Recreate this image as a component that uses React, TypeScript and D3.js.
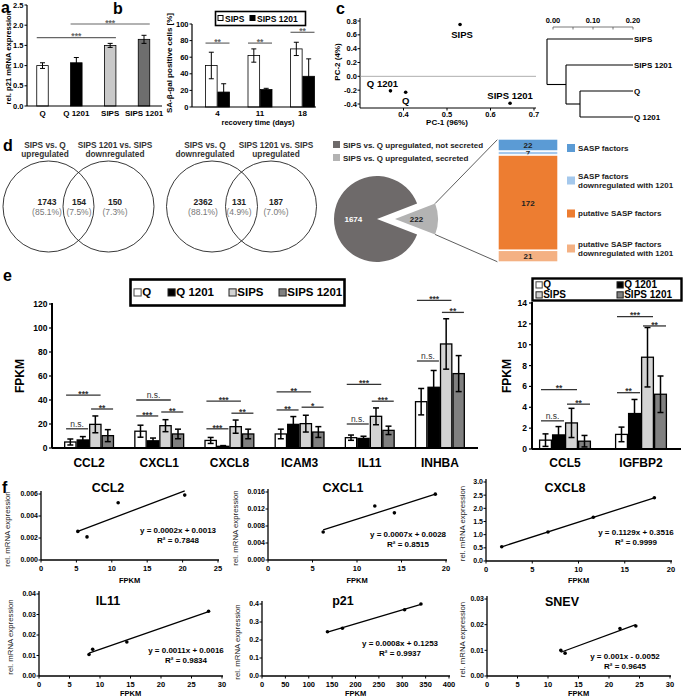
import React from "react";
import * as d3 from "d3";

const FONT = "'Liberation Sans', Arial, Helvetica, sans-serif";

// ================= DATA =================
// panel a
const aCategories = ["Q", "Q 1201", "SIPS", "SIPS 1201"];
const aMeans = [1.0, 1.07, 1.5, 1.65];
const aErrors = [0.07, 0.13, 0.05, 0.1];
const aTicks = [0, 0.5, 1.0, 1.5, 2.0, 2.5];
const aSig = [
  { from: 0, to: 2, level: 1.69, label: "***" },
  { from: 1, to: 3, level: 2.03, label: "***" },
];

// panel b
const bDays = ["4", "11", "18"];
const bSeries = ["SIPS", "SIPS 1201"];
const bSIPS = [50, 62, 70];
const bSIPSErr = [16, 8, 8];
const b1201 = [18, 21, 37];
const b1201Err = [10, 1.5, 21];
const bTicks = [0, 20, 40, 60, 80, 100];
const bSigLevel = [77, 77, 90];
const bSigLabel = ["**", "**", "**"];

// panel c
const pcaNames = ["SIPS", "Q 1201", "Q", "SIPS 1201"];
const pcaPC1 = [0.53, 0.37, 0.405, 0.645];
const pcaPC2 = [0.75, -0.21, -0.23, -0.39];
const pcaXTicks = [0.4, 0.5, 0.6, 0.7];
const pcaYTicks = [-0.4, -0.2, 0, 0.2, 0.4, 0.6, 0.8];
const dendroLeaves = ["SIPS", "SIPS 1201", "Q", "Q 1201"];
const dendroTicks = [0, 0.05, 0.1, 0.15, 0.2];
const dendroLabelTicks = [0, 0.1, 0.2];
const dendroTree = {
  dist: 0.215,
  children: [
    { name: "SIPS", dist: 0 },
    {
      dist: 0.1675,
      children: [
        { name: "SIPS 1201", dist: 0 },
        { dist: 0.1325, children: [{ name: "Q", dist: 0 }, { name: "Q 1201", dist: 0 }] },
      ],
    },
  ],
};

// panel d
const venn1Headers = [["SIPS vs. Q", "upregulated"], ["SIPS 1201 vs. SIPS", "downregulated"]];
const venn1Counts = ["1743", "154", "150"];
const venn1Pcts = ["(85.1%)", "(7.5%)", "(7.3%)"];
const venn2Headers = [["SIPS vs. Q", "downregulated"], ["SIPS 1201 vs. SIPS", "upregulated"]];
const venn2Counts = ["2362", "131", "187"];
const venn2Pcts = ["(88.1%)", "(4.9%)", "(7.0%)"];
const pieLabels = ["SIPS vs. Q upregulated, not secreted", "SIPS vs. Q upregulated, secreted"];
const pieValues = [1674, 222];
const saspLabels = [
  ["SASP factors"],
  ["SASP factors", "downregulated with 1201"],
  ["putative SASP factors"],
  ["putative SASP factors", "downregulated with 1201"],
];
const saspValues = [22, 7, 172, 21];

// panel e
const eGroups = ["Q", "Q 1201", "SIPS", "SIPS 1201"];
const eGenes1 = ["CCL2", "CXCL1", "CXCL8", "ICAM3", "IL11", "INHBA"];
const eQ1 = [5, 14, 6.3, 11.7, 8.6, 38.6];
const eQ1Err = [2.5, 5, 2.5, 4, 2.2, 11];
const eQ12011 = [6.7, 6, 1.4, 19.7, 8, 50.6];
const eQ12011Err = [2.8, 2.3, 0.6, 6.5, 1.8, 14];
const eSIPS1 = [19.7, 18.6, 17.8, 20.3, 26.4, 86.7];
const eSIPS1Err = [7, 5, 5.5, 7, 7, 21];
const eSIPS12011 = [10.3, 11.7, 11.7, 13.3, 14.7, 62];
const eSIPS12011Err = [5, 4, 4, 4.5, 3.5, 15];
const eTicks1 = [0, 20, 40, 60, 80, 100, 120];
const eSig1 = [
  { gene: 0, from: 0, to: 2, level: 44, label: "***" },
  { gene: 0, from: 0, to: 1, level: 16, label: "n.s." },
  { gene: 0, from: 2, to: 3, level: 32.5, label: "**" },
  { gene: 1, from: 0, to: 2, level: 40, label: "n.s." },
  { gene: 1, from: 0, to: 1, level: 26.7, label: "***" },
  { gene: 1, from: 2, to: 3, level: 30, label: "**" },
  { gene: 2, from: 0, to: 2, level: 39, label: "***" },
  { gene: 2, from: 0, to: 1, level: 16, label: "***" },
  { gene: 2, from: 2, to: 3, level: 29, label: "**" },
  { gene: 3, from: 0, to: 2, level: 46.7, label: "**" },
  { gene: 3, from: 0, to: 1, level: 31.7, label: "**" },
  { gene: 3, from: 2, to: 3, level: 34, label: "*" },
  { gene: 4, from: 0, to: 2, level: 53, label: "***" },
  { gene: 4, from: 0, to: 1, level: 20, label: "n.s." },
  { gene: 4, from: 2, to: 3, level: 39, label: "***" },
  { gene: 5, from: 0, to: 2, level: 123, label: "***" },
  { gene: 5, from: 0, to: 1, level: 72.5, label: "n.s." },
  { gene: 5, from: 2, to: 3, level: 113, label: "**" },
];
const eGenes2 = ["CCL5", "IGFBP2"];
const eQ2 = [0.85, 1.4];
const eQ2Err = [0.6, 0.7];
const eQ12012 = [1.35, 3.4];
const eQ12012Err = [0.8, 1.35];
const eSIPS2 = [2.5, 8.8];
const eSIPS2Err = [1.4, 2.85];
const eSIPS12012 = [0.75, 5.25];
const eSIPS12012Err = [0.55, 1.75];
const eTicks2 = [0, 2, 4, 6, 8, 10, 12, 14];
const eSig2 = [
  { gene: 0, from: 0, to: 2, level: 5.7, label: "**" },
  { gene: 0, from: 0, to: 1, level: 2.7, label: "n.s." },
  { gene: 0, from: 2, to: 3, level: 4.3, label: "**" },
  { gene: 1, from: 0, to: 2, level: 12.7, label: "***" },
  { gene: 1, from: 0, to: 1, level: 5.4, label: "**" },
  { gene: 1, from: 2, to: 3, level: 11.8, label: "**" },
];

// panel f
const fTitles = ["CCL2", "CXCL1", "CXCL8", "IL11", "p21", "SNEV"];
const ccl2X = [5.2, 6.5, 10.9, 20.3];
const ccl2Y = [0.0026, 0.0021, 0.0052, 0.0059];
const cxcl1X = [6.2, 12.0, 14.2, 18.8];
const cxcl1Y = [0.0066, 0.0127, 0.0111, 0.0155];
const cxcl8X = [1.7, 6.7, 11.6, 18.2];
const cxcl8Y = [0.54, 1.1, 1.66, 2.4];
const il11X = [8.2, 8.8, 14.4, 27.8];
const il11Y = [0.0105, 0.013, 0.0166, 0.0316];
const p21X = [140, 172, 305, 340];
const p21Y = [0.246, 0.265, 0.368, 0.4];
const snevX = [12.1, 12.8, 21.8, 24.4];
const snevY = [0.01, 0.0089, 0.0185, 0.0195];
const fEquations = [
  "y = 0.0002x + 0.0013",
  "y = 0.0007x + 0.0028",
  "y = 0.1129x + 0.3516",
  "y = 0.0011x + 0.0016",
  "y = 0.0008x + 0.1253",
  "y = 0.001x - 0.0052",
];
const fR2 = ["R² = 0.7848", "R² = 0.8515", "R² = 0.9999", "R² = 0.9834", "R² = 0.9937", "R² = 0.9645"];
const fXTicks = [
  [0, 5, 10, 15, 20, 25],
  [0, 5, 10, 15, 20],
  [0, 5, 10, 15, 20],
  [0, 5, 10, 15, 20, 25, 30],
  [0, 50, 100, 150, 200, 250, 300, 350, 400],
  [0, 5, 10, 15, 20, 25, 30],
];
const fYTicks = [
  [0, 0.002, 0.004, 0.006],
  [0, 0.004, 0.008, 0.012, 0.016],
  [0, 0.5, 1, 1.5, 2, 2.5, 3],
  [0, 0.01, 0.02, 0.03, 0.04],
  [0, 0.1, 0.2, 0.3, 0.4],
  [0, 0.01, 0.02, 0.03],
];
const fYDigits = [3, 3, 1, 2, 1, 2];

// ================= HELPERS =================
function ErrorBar({ x, y1, y2, cap, sw }: any) {
  return (
    <g stroke="#000" strokeWidth={sw || 1}>
      <line x1={x} x2={x} y1={y1} y2={y2} />
      <line x1={x - cap} x2={x + cap} y1={y1} y2={y1} />
      <line x1={x - cap} x2={x + cap} y1={y2} y2={y2} />
    </g>
  );
}

function SigMark({ x1, x2, y, label, size, color, sw }: any) {
  const ns = label === "n.s.";
  return (
    <g>
      <line x1={x1} x2={x2} y1={y} y2={y} stroke={color || "#444"} strokeWidth={sw || 1.2} />
      <text
        x={(x1 + x2) / 2}
        y={ns ? y - 1.8 : y + (size || 8) * 0.2}
        textAnchor="middle"
        fontSize={size || 8}
        fontWeight={ns ? "normal" : "bold"}
        fill={color || "#444"}
      >
        {label}
      </text>
    </g>
  );
}

function RotText({ x, y, size, weight, children, fill }: any) {
  return (
    <text
      transform={`translate(${x},${y}) rotate(-90)`}
      textAnchor="middle"
      fontSize={size}
      fontWeight={weight || "bold"}
      fill={fill || "#000"}
    >
      {children}
    </text>
  );
}

// ================= PANEL A =================
function PanelA() {
  const x = d3.scalePoint<string>().domain(aCategories).range([42.5, 144]);
  const y = d3.scaleLinear().domain([0, 2.5]).range([106, 5]);
  const bw = 11.5;
  const fills = ["#ffffff", "#000000", "#c9c9c9", "#6e6e6e"];
  return (
    <g>
      <text x={1} y={13} fontSize={16} fontWeight="bold">a</text>
      <RotText x={11} y={y(1.2)} size={7.6}>rel. p21 mRNA expression</RotText>
      {aTicks.map((t) => (
        <g key={t}>
          <line x1={24.5} x2={27} y1={y(t)} y2={y(t)} stroke="#000" />
          <text x={23.5} y={y(t)} dy="0.35em" textAnchor="end" fontSize={7.5} fontWeight="bold">
            {t.toFixed(1)}
          </text>
        </g>
      ))}
      <line x1={27} x2={27} y1={y(2.5)} y2={y(0)} stroke="#000" strokeWidth={1.2} />
      {aCategories.map((c, i) => (
        <g key={c}>
          <rect
            x={x(c)! - bw / 2}
            y={y(aMeans[i])}
            width={bw}
            height={y(0) - y(aMeans[i])}
            fill={fills[i]}
            stroke="#000"
            strokeWidth={0.8}
          />
          <ErrorBar x={x(c)!} y1={y(aMeans[i] - aErrors[i])} y2={y(aMeans[i] + aErrors[i])} cap={2.5} />
          <text x={x(c)} y={116} textAnchor="middle" fontSize={8} fontWeight="bold">
            {c}
          </text>
        </g>
      ))}
      <line x1={27} x2={162} y1={y(0)} y2={y(0)} stroke="#000" strokeWidth={1.2} />
      {aSig.map((s, i) => (
        <SigMark
          key={i}
          x1={x(aCategories[s.from])! - bw / 2}
          x2={x(aCategories[s.to])! + bw / 2}
          y={y(s.level)}
          label={s.label}
          size={8.5}
          color="#666"
        />
      ))}
    </g>
  );
}

// ================= PANEL B =================
function PanelB() {
  const x0 = d3.scalePoint<string>().domain(bDays).range([217.5, 302.5]);
  const x1 = d3.scaleBand<string>().domain(bSeries).range([-12, 12]).paddingInner(0.06);
  const y = d3.scaleLinear().domain([0, 100]).range([107, 24]);
  const bw = x1.bandwidth();
  const series = [
    { vals: bSIPS, errs: bSIPSErr, fill: "#ffffff" },
    { vals: b1201, errs: b1201Err, fill: "#000000" },
  ];
  return (
    <g>
      <text x={113} y={14} fontSize={16} fontWeight="bold">b</text>
      <RotText x={172} y={63} size={8}>SA-β-gal positive cells [%]</RotText>
      {bTicks.map((t) => (
        <g key={t}>
          <line x1={189.5} x2={192} y1={y(t)} y2={y(t)} stroke="#000" />
          <text x={188.5} y={y(t)} dy="0.35em" textAnchor="end" fontSize={7.5} fontWeight="bold">
            {t}
          </text>
        </g>
      ))}
      <line x1={192} x2={192} y1={y(100)} y2={y(0)} stroke="#000" strokeWidth={1.2} />
      {bDays.map((d, i) => (
        <g key={d}>
          {series.map((s, j) => {
            const bx = x0(d)! + x1(bSeries[j])!;
            return (
              <g key={j}>
                <rect x={bx} y={y(s.vals[i])} width={bw} height={y(0) - y(s.vals[i])} fill={s.fill} stroke="#000" strokeWidth={0.8} />
                <ErrorBar x={bx + bw / 2} y1={y(s.vals[i] - s.errs[i])} y2={y(s.vals[i] + s.errs[i])} cap={2.5} />
              </g>
            );
          })}
          <text x={x0(d)} y={116} textAnchor="middle" fontSize={8} fontWeight="bold">{d}</text>
          <SigMark x1={x0(d)! - 12} x2={x0(d)! + 12} y={y(bSigLevel[i])} label={bSigLabel[i]} size={8.5} color="#666" />
        </g>
      ))}
      <line x1={192} x2={316} y1={y(0)} y2={y(0)} stroke="#000" strokeWidth={1.2} />
      <text x={258} y={125} textAnchor="middle" fontSize={7.5} fontWeight="bold">recovery time (days)</text>
      {/* legend */}
      <rect x={215.5} y={11.5} width={90} height={14} fill="#fff" stroke="#000" strokeWidth={1.6} />
      <rect x={218} y={15.5} width={5} height={5} fill="#fff" stroke="#000" strokeWidth={1} />
      <text x={225} y={21.5} fontSize={8.5} fontWeight="bold">{bSeries[0]}</text>
      <rect x={250} y={15.5} width={5} height={5} fill="#000" stroke="#000" strokeWidth={1} />
      <text x={257} y={21.5} fontSize={8.5} fontWeight="bold">{bSeries[1]}</text>
    </g>
  );
}

// ================= PANEL C =================
function PanelC() {
  const x = d3.scaleLinear().domain([0.3, 0.7]).range([360, 534]);
  const y = d3.scaleLinear().domain([-0.4, 0.8]).range([104, 21]);
  const labelDx = [2, -8, 0, 0];
  const labelDy = [14, -4, 12, -4];
  // dendrogram
  const ds = d3.scaleLinear().domain([0, 0.2]).range([553, 633]);
  const ly = d3.scalePoint<string>().domain(dendroLeaves).range([39, 117]);
  const root = d3.hierarchy<any>(dendroTree);
  const nodeY = (n: any): number => {
    if (!n.children) return ly(n.data.name)!;
    const ys = n.children.map(nodeY);
    return (ys[0] + ys[ys.length - 1]) / 2;
  };
  const nodeX = (n: any) => ds(0.2 - n.data.dist);
  const segs: any[] = [];
  root.each((n: any) => {
    if (n.children) {
      const cx = nodeX(n);
      const cys = n.children.map(nodeY);
      segs.push([cx, cys[0], cx, cys[cys.length - 1]]);
      n.children.forEach((c: any, k: number) => {
        segs.push([cx, cys[k], nodeX(c), cys[k]]);
      });
    }
  });
  return (
    <g>
      <text x={336} y={14} fontSize={16} fontWeight="bold">c</text>
      <RotText x={340} y={62} size={8}>PC-2 (4%)</RotText>
      <line x1={360} x2={360} y1={18} y2={108} stroke="#000" strokeWidth={1} />
      {pcaYTicks.map((t) => (
        <g key={t}>
          <line x1={357.5} x2={360} y1={y(t)} y2={y(t)} stroke="#000" />
          <text x={357} y={y(t)} dy="0.35em" textAnchor="end" fontSize={7.5} fontWeight="bold">
            {t.toFixed(1)}
          </text>
        </g>
      ))}
      <line x1={360} x2={536} y1={108} y2={108} stroke="#000" strokeWidth={1} />
      {pcaXTicks.map((t) => (
        <g key={t}>
          <line x1={x(t)} x2={x(t)} y1={108} y2={110.5} stroke="#000" />
          <text x={x(t)} y={117} textAnchor="middle" fontSize={7.5} fontWeight="bold">
            {t.toFixed(1)}
          </text>
        </g>
      ))}
      <line x1={360} x2={536} y1={y(0)} y2={y(0)} stroke="#999" strokeWidth={0.8} />
      <text x={447} y={125} textAnchor="middle" fontSize={8} fontWeight="bold">PC-1 (96%)</text>
      {pcaNames.map((n, i) => (
        <g key={n}>
          <circle cx={x(pcaPC1[i])} cy={y(pcaPC2[i])} r={1.8} fill="#000" />
          <text
            x={x(pcaPC1[i]) + labelDx[i]}
            y={y(pcaPC2[i]) + labelDy[i]}
            textAnchor="middle"
            fontSize={9.5}
            fontWeight="bold"
          >
            {n}
          </text>
        </g>
      ))}
      {/* dendrogram */}
      <line x1={ds(0)} x2={ds(0.2)} y1={27} y2={27} stroke="#555" strokeWidth={0.8} />
      {dendroTicks.map((t) => (
        <line key={t} x1={ds(t)} x2={ds(t)} y1={27} y2={29.5} stroke="#555" strokeWidth={0.8} />
      ))}
      {dendroLabelTicks.map((t) => (
        <text key={t} x={ds(t)} y={23} textAnchor="middle" fontSize={7.5} fontWeight="bold">
          {t.toFixed(2)}
        </text>
      ))}
      {segs.map((s, i) => (
        <line key={i} x1={s[0]} y1={s[1]} x2={s[2]} y2={s[3]} stroke="#000" strokeWidth={1.1} />
      ))}
      {dendroLeaves.map((l) => (
        <text key={l} x={ds(0.2) + 1} y={ly(l)} dy="0.35em" fontSize={8} fontWeight="bold">
          {l}
        </text>
      ))}
    </g>
  );
}

// ================= PANEL D =================
function Venn({ cx1, cx2, cy, r, headers, counts, pcts, headerX, labelX }: any) {
  return (
    <g>
      <circle cx={cx1} cy={cy} r={r} fill="none" stroke="#222" strokeWidth={0.9} />
      <circle cx={cx2} cy={cy} r={r} fill="none" stroke="#222" strokeWidth={0.9} />
      {headers.map((h: string[], i: number) => (
        <text key={i} x={headerX[i]} textAnchor="middle" fontSize={8.3} fontWeight="bold" fill="#333">
          <tspan x={headerX[i]} y={147.5}>{h[0]}</tspan>
          <tspan x={headerX[i]} y={157}>{h[1]}</tspan>
        </text>
      ))}
      {counts.map((c: string, i: number) => (
        <g key={i}>
          <text x={labelX[i]} y={205} textAnchor="middle" fontSize={8.5} fontWeight="bold" fill="#222">{c}</text>
          <text x={labelX[i]} y={215} textAnchor="middle" fontSize={8.5} fill="#777">{pcts[i]}</text>
        </g>
      ))}
    </g>
  );
}

function PanelD() {
  const cx = 377;
  const cy = 219;
  const r = 43;
  const explode = 18;
  const total = d3.sum(pieValues);
  const theta = (2 * Math.PI * pieValues[1]) / total;
  const start = Math.PI / 2 + theta / 2;
  const arcs = d3.pie<number>().sort(null).startAngle(start).endAngle(start + 2 * Math.PI)(pieValues);
  const arcGen = d3.arc<any>().innerRadius(0).outerRadius(r);
  const pieFills = ["#6e6a6a", "#b3b3b3"];
  const small = arcs[1];
  const sx = cx + explode;
  const cornerA = [sx + r * Math.sin(small.startAngle), cy - r * Math.cos(small.startAngle)];
  const cornerB = [sx + r * Math.sin(small.endAngle), cy - r * Math.cos(small.endAngle)];
  // stacked bar
  const barX = 498;
  const barW = 60;
  const ys = d3.scaleLinear().domain([0, d3.sum(saspValues)]).range([139, 262]);
  const cum = d3.cumsum([0, ...saspValues]);
  const saspFills = ["#5b9bd5", "#a4c8ec", "#ed7d31", "#f4b183"];
  const legendY = [148, 180.5, 213.5, 248.5];
  const bigCentroid = arcGen.centroid(arcs[0]);
  const smallCentroid = arcGen.centroid(small);
  return (
    <g>
      <text x={3} y={151} fontSize={16} fontWeight="bold">d</text>
      <Venn
        cx1={48.5}
        cx2={108.5}
        cy={206.5}
        r={45.5}
        headers={venn1Headers}
        counts={venn1Counts}
        pcts={venn1Pcts}
        headerX={[45, 115]}
        labelX={[47, 79, 115]}
      />
      <Venn
        cx1={212}
        cx2={271}
        cy={206.5}
        r={45.5}
        headers={venn2Headers}
        counts={venn2Counts}
        pcts={venn2Pcts}
        headerX={[205, 276]}
        labelX={[203, 239, 276]}
      />
      {/* pie legend */}
      {pieLabels.map((l, i) => (
        <g key={l}>
          <rect x={333} y={141 + i * 13} width={7} height={7} fill={pieFills[i]} />
          <text x={343} y={147.5 + i * 13} fontSize={8} fontWeight="bold" fill="#222">{l}</text>
        </g>
      ))}
      <path d={arcGen(arcs[0])!} transform={`translate(${cx},${cy})`} fill={pieFills[0]} />
      <path d={arcGen(small)!} transform={`translate(${sx},${cy})`} fill={pieFills[1]} />
      <text x={cx + bigCentroid[0] * 1.1} y={cy + bigCentroid[1]} dy="0.35em" textAnchor="middle" fontSize={8} fontWeight="bold" fill="#fff">
        {pieValues[0]}
      </text>
      <text x={sx + smallCentroid[0]} y={cy + smallCentroid[1]} dy="0.35em" textAnchor="middle" fontSize={8} fontWeight="bold" fill="#222">
        {pieValues[1]}
      </text>
      <line x1={cornerA[0]} y1={cornerA[1]} x2={barX} y2={ys(0)} stroke="#333" strokeWidth={0.8} />
      <line x1={cornerB[0]} y1={cornerB[1]} x2={barX} y2={ys(d3.sum(saspValues))} stroke="#333" strokeWidth={0.8} />
      {saspValues.map((v, i) => (
        <g key={i}>
          <rect x={barX} y={ys(cum[i])} width={barW} height={ys(cum[i + 1]) - ys(cum[i])} fill={saspFills[i]} stroke="#fff" strokeWidth={1.4} />
          <text
            x={barX + barW / 2}
            y={(ys(cum[i]) + ys(cum[i + 1])) / 2}
            dy="0.35em"
            textAnchor="middle"
            fontSize={8}
            fontWeight="bold"
            fill="#222"
          >
            {v}
          </text>
        </g>
      ))}
      {saspLabels.map((l, i) => (
        <g key={i}>
          <rect x={567} y={legendY[i] - 4} width={8} height={8} fill={saspFills[i]} />
          {l.map((t, k) => (
            <text key={k} x={578} y={legendY[i] + (k - (l.length - 1) / 2) * 9.5} dy="0.35em" fontSize={8} fontWeight="bold" fill="#222">
              {t}
            </text>
          ))}
        </g>
      ))}
    </g>
  );
}

// ================= PANEL E =================
const groupFills = ["#ffffff", "#000000", "#d3d3d3", "#808080"];

function GroupedBars({ genes, series, sig, xRange, yDomain, yRange, axisX, axisEnd, ticks, groupW, tickX }: any) {
  const x0 = d3.scaleBand<string>().domain(genes).range(xRange);
  const x1 = d3.scaleBand<string>().domain(eGroups).range([0, groupW]);
  const y = d3.scaleLinear().domain(yDomain).range(yRange);
  const bw = x1.bandwidth();
  const barX = (gi: number, k: number) => x0(genes[gi])! + x0.bandwidth() / 2 - groupW / 2 + x1(eGroups[k])!;
  return (
    <g>
      {ticks.map((t: number) => (
        <g key={t}>
          <line x1={axisX - 3} x2={axisX} y1={y(t)} y2={y(t)} stroke="#000" strokeWidth={1.2} />
          <text x={tickX} y={y(t)} dy="0.35em" textAnchor="end" fontSize={8.5} fontWeight="bold">{t}</text>
        </g>
      ))}
      {genes.map((g: string, gi: number) => (
        <g key={g}>
          {series.map((s: any, k: number) => {
            const v = s.vals[gi];
            const e = s.errs[gi];
            const bx = barX(gi, k);
            return (
              <g key={k}>
                <rect x={bx + 0.6} y={y(v)} width={bw - 1.2} height={y(0) - y(v)} fill={groupFills[k]} stroke="#000" strokeWidth={1.3} />
                <ErrorBar x={bx + bw / 2} y1={y(v - e)} y2={y(v + e)} cap={3} sw={1.5} />
              </g>
            );
          })}
          <text x={x0(g)! + x0.bandwidth() / 2} y={467} textAnchor="middle" fontSize={12} fontWeight="bold">{g}</text>
        </g>
      ))}
      {sig.map((s: any, i: number) => (
        <SigMark
          key={i}
          x1={barX(s.gene, s.from) + 2}
          x2={barX(s.gene, s.to) + bw - 1}
          y={y(s.level)}
          label={s.label}
          size={8.5}
          color="#333"
          sw={1.3}
        />
      ))}
      <line x1={axisX} x2={axisX} y1={yRange[1] - 1} y2={yRange[0]} stroke="#000" strokeWidth={2} />
      <line x1={axisX} x2={axisEnd} y1={yRange[0]} y2={yRange[0]} stroke="#000" strokeWidth={2.2} />
    </g>
  );
}

function LegendItem({ x, y, k, size }: any) {
  return (
    <g>
      <rect x={x} y={y - size * 0.62} width={size * 0.62} height={size * 0.62} fill={groupFills[k]} stroke={k === 0 ? "#444" : "#222"} strokeWidth={1} />
      <text x={x + size * 0.72} y={y} fontSize={size} fontWeight="bold">{eGroups[k]}</text>
    </g>
  );
}

function PanelE() {
  const series1 = [
    { vals: eQ1, errs: eQ1Err },
    { vals: eQ12011, errs: eQ12011Err },
    { vals: eSIPS1, errs: eSIPS1Err },
    { vals: eSIPS12011, errs: eSIPS12011Err },
  ];
  const series2 = [
    { vals: eQ2, errs: eQ2Err },
    { vals: eQ12012, errs: eQ12012Err },
    { vals: eSIPS2, errs: eSIPS2Err },
    { vals: eSIPS12012, errs: eSIPS12012Err },
  ];
  return (
    <g>
      <text x={3} y={281} fontSize={16} fontWeight="bold">e</text>
      <rect x={130.5} y={279.5} width={214} height={26} fill="#fff" stroke="#000" strokeWidth={2.6} />
      <LegendItem x={134} y={296} k={0} size={11.5} />
      <LegendItem x={168} y={296} k={1} size={11.5} />
      <LegendItem x={229} y={296} k={2} size={11.5} />
      <LegendItem x={279} y={296} k={3} size={11.5} />
      <RotText x={24} y={376} size={12}>FPKM</RotText>
      <GroupedBars
        genes={eGenes1}
        series={series1}
        sig={eSig1}
        xRange={[54, 475]}
        yDomain={[0, 120]}
        yRange={[448, 304]}
        axisX={52}
        axisEnd={478}
        ticks={eTicks1}
        groupW={50}
        tickX={47.5}
      />
      <rect x={532.5} y={278.5} width={149} height={22} fill="#fff" stroke="#000" strokeWidth={2.4} />
      <LegendItem x={536} y={288} k={0} size={10} />
      <LegendItem x={617} y={288} k={1} size={10} />
      <LegendItem x={536} y={298} k={2} size={10} />
      <LegendItem x={617} y={298} k={3} size={10} />
      <RotText x={511} y={376} size={12}>FPKM</RotText>
      <GroupedBars
        genes={eGenes2}
        series={series2}
        sig={eSig2}
        xRange={[527, 679]}
        yDomain={[0, 14]}
        yRange={[449, 303]}
        axisX={532}
        axisEnd={681}
        ticks={eTicks2}
        groupW={52}
        tickX={527}
      />
    </g>
  );
}

// ================= PANEL F =================
function fit(xs: number[], ys: number[]) {
  const mx = d3.mean(xs)!;
  const my = d3.mean(ys)!;
  let sxy = 0;
  let sxx = 0;
  xs.forEach((v, i) => {
    sxy += (v - mx) * (ys[i] - my);
    sxx += (v - mx) * (v - mx);
  });
  const slope = sxy / sxx;
  return { slope, intercept: my - slope * mx };
}

function Scatter({ idx, xs, ys, L }: any) {
  const x = d3.scaleLinear().domain([fXTicks[idx][0], fXTicks[idx][fXTicks[idx].length - 1]]).range([L.x0, L.x1]);
  const yt = fYTicks[idx];
  const y = d3.scaleLinear().domain([yt[0], yt[yt.length - 1]]).range([L.yb, L.yt]);
  const f = fit(xs, ys);
  const xmin = d3.min(xs)!;
  const xmax = d3.max(xs)!;
  const line = d3.line<number>().x((v) => x(v)).y((v) => y(f.slope * v + f.intercept));
  return (
    <g>
      <text x={L.tx} y={L.ty} textAnchor="middle" fontSize={12.5} fontWeight="bold">{fTitles[idx]}</text>
      <RotText x={L.lx} y={(L.yb + L.yt) / 2 + 2} size={7.8} weight="normal" fill="#222">rel. mRNA expression</RotText>
      <line x1={L.x0} x2={L.x0} y1={L.yt - 3} y2={L.yb} stroke="#000" strokeWidth={1.3} />
      <line x1={L.x0} x2={L.x1 + 1} y1={L.yb} y2={L.yb} stroke="#000" strokeWidth={1.3} />
      {yt.map((t: number) => (
        <g key={t}>
          <line x1={L.x0 - 2.5} x2={L.x0} y1={y(t)} y2={y(t)} stroke="#000" strokeWidth={1} />
          <text x={L.x0 - 3} y={y(t)} dy="0.35em" textAnchor="end" fontSize={7} fontWeight="bold">
            {t.toFixed(fYDigits[idx])}
          </text>
        </g>
      ))}
      {fXTicks[idx].map((t: number) => (
        <g key={t}>
          <line x1={x(t)} x2={x(t)} y1={L.yb} y2={L.yb + 2.5} stroke="#000" strokeWidth={1} />
          <text x={x(t)} y={L.yb + 10.5} textAnchor="middle" fontSize={7.5} fontWeight="bold">{t}</text>
        </g>
      ))}
      <text x={(L.x0 + L.x1) / 2} y={L.fy} textAnchor="middle" fontSize={7.5} fontWeight="bold">FPKM</text>
      <path d={line([xmin, xmax])!} stroke="#000" strokeWidth={1.3} fill="none" />
      {xs.map((v: number, i: number) => (
        <circle key={i} cx={x(v)} cy={y(ys[i])} r={1.8} fill="#000" />
      ))}
      <text x={L.ex} y={L.ey} textAnchor="middle" fontSize={8} fontWeight="bold">{fEquations[idx]}</text>
      <text x={L.ex} y={L.ey + 10} textAnchor="middle" fontSize={8} fontWeight="bold">{fR2[idx]}</text>
    </g>
  );
}

function PanelF() {
  const layouts = [
    { x0: 41, x1: 218, yb: 560, yt: 494, tx: 108, ty: 492, lx: 10, ex: 178, ey: 533, fy: 582.5 },
    { x0: 268, x1: 446, yb: 560, yt: 492, tx: 343, ty: 492, lx: 238, ex: 408, ey: 537, fy: 582.5 },
    { x0: 486, x1: 671, yb: 561, yt: 482, tx: 565, ty: 492, lx: 465, ex: 636, ey: 535, fy: 582.5 },
    { x0: 39, x1: 222, yb: 676, yt: 594, tx: 108, ty: 605, lx: 13, ex: 186, ey: 653, fy: 695.5 },
    { x0: 262, x1: 449, yb: 676, yt: 604, tx: 343, ty: 605, lx: 240, ex: 400, ey: 646, fy: 695.5 },
    { x0: 487, x1: 670, yb: 676, yt: 599, tx: 562, ty: 606, lx: 465, ex: 625, ey: 659, fy: 695.5 },
  ];
  const data = [
    [ccl2X, ccl2Y],
    [cxcl1X, cxcl1Y],
    [cxcl8X, cxcl8Y],
    [il11X, il11Y],
    [p21X, p21Y],
    [snevX, snevY],
  ];
  return (
    <g>
      <text x={2} y={493} fontSize={16} fontWeight="bold">f</text>
      {data.map((d, i) => (
        <Scatter key={i} idx={i} xs={d[0]} ys={d[1]} L={layouts[i]} />
      ))}
    </g>
  );
}

export default function App() {
  return (
    <svg
      width={685}
      height={699}
      viewBox="0 0 685 699"
      style={{ position: "absolute", left: 0, top: 0, background: "#fff" }}
      fontFamily={FONT}
    >
      <rect width={685} height={699} fill="#fff" />
      <PanelA />
      <PanelB />
      <PanelC />
      <PanelD />
      <PanelE />
      <PanelF />
    </svg>
  );
}
